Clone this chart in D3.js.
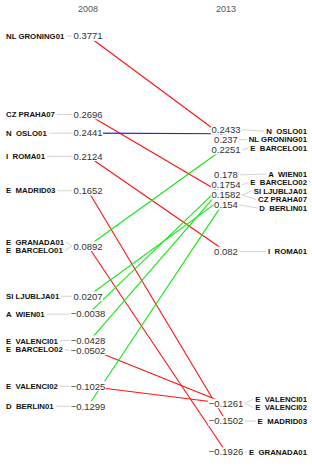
<!DOCTYPE html>
<meta charset="utf-8">
<body style="margin:0;background:#fff">
<div id="chart"></div>
<style>
text { font-family: "Liberation Sans", Arial, sans-serif; }
.name { font-size: 7.8px; font-weight: bold; fill: #111; white-space: pre; }
.val { font-size: 9.5px; fill: #333; }
.year { font-size: 9px; fill: #555; }
</style>
<script src="https://cdn.jsdelivr.net/npm/d3@7"></script>
<script>
const width = 312, height = 476;

const years = ["2008", "2013"];

// one row per slope line
const units = ["NL GRONING01", "CZ PRAHA07", "N  OSLO01", "I  ROMA01", "E  MADRID03",
	"E  GRANADA01", "E  BARCELO01", "SI LJUBLJA01", "A  WIEN01", "E  BARCELO02",
	"E  VALENCI01", "E  VALENCI02", "D  BERLIN01"];
const v2008 = [0.3771, 0.2696, 0.2441, 0.2124, 0.1652, 0.0892, 0.0892, 0.0207, -0.0038, -0.0428, -0.0502, -0.1025, -0.1299];
const v2013 = [0.237, 0.1582, 0.2433, 0.082, -0.1502, -0.1926, 0.2251, 0.1582, 0.178, 0.1754, -0.1261, -0.1261, 0.154];

// names as they are printed down each column, top to bottom
const names2008 = ["NL GRONING01", "CZ PRAHA07", "N  OSLO01", "I  ROMA01", "E  MADRID03",
	"E  GRANADA01", "E  BARCELO01", "SI LJUBLJA01", "A  WIEN01", "E  VALENCI01",
	"E  BARCELO02", "E  VALENCI02", "D  BERLIN01"];
const names2013 = ["N  OSLO01", "NL GRONING01", "E  BARCELO01", "A  WIEN01", "E  BARCELO02",
	"SI LJUBLJA01", "CZ PRAHA07", "D  BERLIN01", "I  ROMA01", "E  VALENCI01",
	"E  VALENCI02", "E  MADRID03", "E  GRANADA01"];

const svg = d3.select("#chart").append("svg")
	.attr("width", width)
	.attr("height", height);

const x = d3.scalePoint().domain(years).range([88, 226]);
const allValues = v2008.concat(v2013);
const y = d3.scaleLinear()
	.domain([d3.min(allValues), d3.max(allValues)])
	.range([452, 36]);

const fmt = d3.format("");

function colour(i) {
	const diff = v2013[i] - v2008[i];
	if (Math.abs(diff) < 0.005) return "#2020e0";
	return diff < 0 ? "#ff1010" : "#14e614";
}

// push apart labels that sit closer than gap
function dodge(items, gap) {
	items.sort((a, b) => a.y - b.y);
	for (let k = 0; k < 300; k++) {
		for (let i = 0; i < items.length - 1; i++) {
			const d = items[i + 1].y - items[i].y;
			if (d < gap) {
				const m = (gap - d) / 2;
				items[i].y -= m;
				items[i + 1].y += m;
			}
		}
	}
	return items;
}

// year headers
svg.selectAll("text.year")
	.data(years)
	.join("text")
	.attr("class", "year")
	.attr("x", d => x(d))
	.attr("y", 9)
	.attr("dy", "0.35em")
	.attr("text-anchor", "middle")
	.text(d => d);

const leaders = svg.append("g");
const slopes = svg.append("g");
const valueLayer = svg.append("g");
const nameLayer = svg.append("g");

// slope lines
slopes.selectAll("line")
	.data(d3.range(units.length))
	.join("line")
	.attr("x1", x("2008"))
	.attr("y1", i => y(v2008[i]))
	.attr("x2", x("2013"))
	.attr("y2", i => y(v2013[i]))
	.attr("stroke", colour)
	.attr("stroke-width", 1.1);

years.forEach(function(year) {
	const vals = year === "2008" ? v2008 : v2013;
	const names = year === "2008" ? names2008 : names2013;
	const left = year === "2008";

	// value labels (one per distinct value)
	const uniq = Array.from(new Set(vals)).sort((a, b) => b - a);
	const vItems = dodge(uniq.map(v => ({ v: v, y: y(v) })), 10);
	const byValue = new Map();
	vItems.forEach(function(it) {
		const g = valueLayer.append("g");
		const t = g.append("text")
			.attr("class", "val")
			.attr("x", x(year))
			.attr("y", it.y)
			.attr("dy", "0.35em")
			.attr("text-anchor", "middle")
			.text(fmt(it.v));
		const bb = t.node().getBBox();
		g.insert("rect", "text")
			.attr("x", bb.x - 0.5)
			.attr("y", it.y - 4.8)
			.attr("width", bb.width + 1)
			.attr("height", 9.6)
			.attr("fill", "#fff");
		byValue.set(it.v, { y: it.y, x0: bb.x, x1: bb.x + bb.width });
	});

	// unit names
	const sorted = vals.slice().sort((a, b) => b - a);
	const nItems = dodge(sorted.map((v, i) => ({ v: v, name: names[i], y: y(v), o: i })), 8.5);
	nItems.forEach(function(it) {
		const t = nameLayer.append("text")
			.attr("class", "name")
			.attr("x", left ? 6 : 307)
			.attr("y", it.y)
			.attr("dy", "0.35em")
			.attr("text-anchor", left ? "start" : "end")
			.text(it.name);
		const len = t.node().getComputedTextLength();
		const lab = byValue.get(it.v);
		leaders.append("line")
			.attr("x1", left ? 6 + len + 2 : lab.x1 + 1.5)
			.attr("y1", left ? it.y : lab.y)
			.attr("x2", left ? lab.x0 - 1.5 : 307 - len - 2)
			.attr("y2", left ? lab.y : it.y)
			.attr("stroke", "#d4d4d4")
			.attr("stroke-width", 1);
	});
});
</script>
</body>
